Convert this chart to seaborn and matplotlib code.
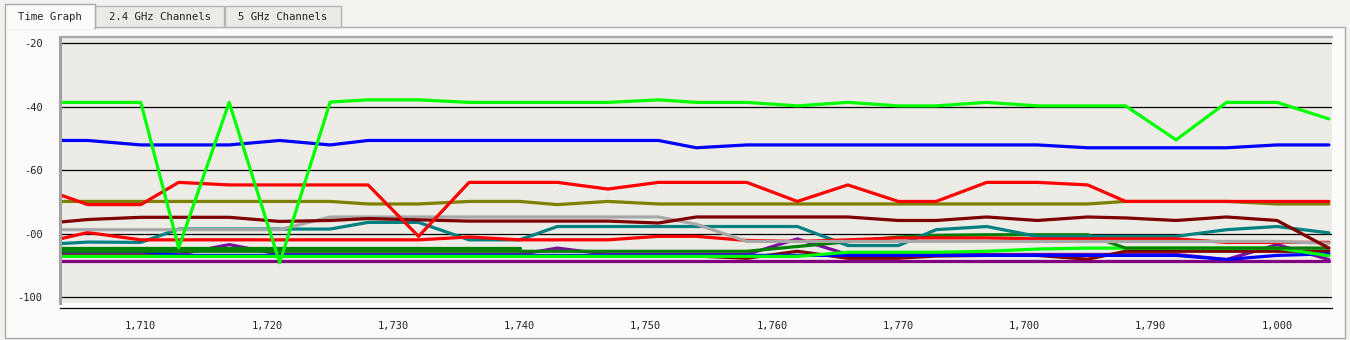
import matplotlib
matplotlib.use('Agg')  # headless
import matplotlib.pyplot as plt
from matplotlib.patches import Rectangle
from matplotlib.ticker import FixedLocator, MultipleLocator
import numpy as np
import pandas as pd
import seaborn as sns

# sample times (x)
time = [1703.6, 1705.8, 1710, 1713, 1717, 1721, 1725, 1728, 1732, 1736,
        1740, 1743, 1747, 1751, 1754, 1758, 1762, 1766, 1770, 1773,
        1777, 1781, 1785, 1788, 1792, 1796, 1800, 1804.1]

purple_low = [-88.5] * 28
purple_mid = [-86.5] * 4 + [-83.4] + [-86.5] * 6 + [-84.5] + [-86.5] * 4 + [-81.6] \
    + [-86.5] * 8 + [-88.1, -83.4, -88.1]
maroon_low = [-87.0] * 15 + [-87.7, -85.5, -87.7, -87.7, -87.0, -86.8, -86.8, -88.0] + [-85.5] * 5
blue_low = [-85.5] * 3 + [-86.8] * 22 + [-88.1, -86.8, -86.3]
lime_low = [-87.1] * 17 + [-85.8, -85.8, -85.8, -85.5, -84.8] + [-84.5] * 5 + [-86.9]
green_b = [-85.5] * 16 + [-84.0, -82.5, -81.0, -80.5, -80.3, -80.3, -80.3] + [-84.5] * 5
green_a = [-84.5] * 11 + [np.nan] * 17
teal = [-83.1, -82.6, -82.7, -78.5, -78.5, -78.5, -78.5, -76.4, -76.4, -81.9,
        -81.9, -77.7, -77.7, -77.7, -77.7, -77.7, -77.7, -83.7, -83.7, -78.7,
        -77.7, -80.8, -80.8, -80.8, -80.8, -78.7, -77.7, -79.7]
red_low = [-81.6, -79.6, -81.9, -81.9, -81.9, -81.9, -81.9, -81.9, -81.9, -81.0,
           -81.9, -81.9, -81.9, -80.8, -80.8, -82.1, -82.4, -81.9, -81.3, -81.3,
           -81.3, -81.6, -81.6, -81.6, -81.6, -82.7, -82.7, -82.7]
grey = [-78.7] * 6 + [-74.7] * 8 + [-77.0] + [-82.4] * 12 + [-83.0]
maroon = [-76.3, -75.5, -74.8, -74.8, -74.8, -76.1, -75.8, -75.2, -75.6, -76.0,
          -76.0, -76.0, -76.0, -76.6, -74.7, -74.7, -74.7, -74.7, -75.8, -75.8,
          -74.7, -75.8, -74.7, -75.0, -75.8, -74.7, -75.8, -84.5]
olive = [-69.8] * 7 + [-70.6, -70.6, -69.8, -69.8, -70.8, -69.8, -70.6] + [-70.6] * 9 \
    + [-69.8, -69.8, -69.8, -70.6, -70.6]
red_top = [-67.7, -70.8, -70.8, -63.8, -64.6, -64.6, -64.6, -64.6, -80.8, -63.8,
           -63.8, -63.8, -65.9, -63.8, -63.8, -63.8, -69.8, -64.6, -69.8, -69.8,
           -63.8, -63.8, -64.6, -69.8, -69.8, -69.8, -69.8, -69.8]
blue_top = [-50.6, -50.6, -52.0, -52.0, -52.0, -50.6, -52.0, -50.6, -50.6, -50.6,
            -50.6, -50.6, -50.6, -50.6, -52.9] + [-52.0] * 7 + [-52.9] * 4 + [-52.0, -52.0]
lime_top = [-38.6, -38.6, -38.6, -84.4, -38.6, -89.1, -38.5, -37.8, -37.8, -38.6,
            -38.6, -38.6, -38.6, -37.8, -38.6, -38.6, -39.7, -38.6, -39.7, -39.7,
            -38.6, -39.7, -39.7, -39.7, -50.4, -38.6, -38.6, -43.8]

y_ticks = [-100, -80, -60, -40, -20]
y_labels = ["-100", "-00", "-60", "-40", "-20"]
x_ticks = [1710, 1720, 1730, 1740, 1750, 1760, 1770, 1780, 1790, 1800]
x_labels = ["1,710", "1,720", "1,730", "1,740", "1,750", "1,760", "1,770",
            "1,700", "1,790", "1,000"]
tabs = ["Time Graph", "2.4 GHz Channels", "5 GHz Channels"]

# drawing order: first listed ends up at the bottom
series = {
    "purple_low": (purple_low, "#800080"),
    "purple_mid": (purple_mid, "#7d0a9e"),
    "maroon_low": (maroon_low, "#800000"),
    "blue_low": (blue_low, "#0000ff"),
    "lime_low": (lime_low, "#00ff00"),
    "green_b": (green_b, "#008000"),
    "green_a": (green_a, "#008000"),
    "teal": (teal, "#008080"),
    "red_low": (red_low, "#ff0000"),
    "grey": (grey, "#a8a8a8"),
    "maroon": (maroon, "#800000"),
    "olive": (olive, "#808000"),
    "red_top": (red_top, "#ff0000"),
    "blue_top": (blue_top, "#0000ff"),
    "lime_top": (lime_top, "#00ff00"),
}

W, H = 1350, 340


def build_frame():
    rows = []
    for name, (vals, _) in series.items():
        for t, v in zip(time, vals):
            rows.append({"time": t, "dbm": v, "ap": name})
    return pd.DataFrame(rows)


def px_rect(fig, x0, y0, x1, y1, **kw):
    r = Rectangle((x0 / W, 1 - y1 / H), (x1 - x0) / W, (y1 - y0) / H,
                  transform=fig.transFigure, **kw)
    fig.add_artist(r)
    return r


def draw_chrome(fig):
    # tab panel
    px_rect(fig, 5, 27, 1345, 338, facecolor="#fcfbf9", edgecolor="#aaaaaa", lw=1, zorder=0)
    px_rect(fig, 95, 6, 224, 27, facecolor="#eceae6", edgecolor="#b4b4b4", lw=1, zorder=0)
    px_rect(fig, 225, 6, 341, 27, facecolor="#eceae6", edgecolor="#b4b4b4", lw=1, zorder=0)
    px_rect(fig, 5, 4, 95, 28, facecolor="#fcfbf9", edgecolor="#aaaaaa", lw=1, zorder=0)
    px_rect(fig, 6, 26, 94, 29, facecolor="#fcfbf9", edgecolor="none", zorder=0)
    centers = [49.5, 160, 283]
    for label, cx in zip(tabs, centers):
        fig.text(cx / W, 1 - 17 / H, label, ha="center", va="center",
                 fontsize=7.7, family="DejaVu Sans Mono", color="#222222")


def plot_time_graph(df):
    fig = plt.figure(figsize=(W / 100, H / 100), dpi=100)
    fig.patch.set_facecolor("#f4f2ef")
    draw_chrome(fig)
    ax = fig.add_axes([60 / W, 1 - 302.7 / H, (1332 - 60) / W, (302.7 - 37.3) / H])
    ax.set_facecolor("#ecebe6")

    palette = {k: c for k, (_, c) in series.items()}
    sns.lineplot(data=df, x="time", y="dbm", hue="ap", hue_order=list(series.keys()),
                 palette=palette, estimator=None, sort=False, linewidth=2.3,
                 legend=False, ax=ax)

    ax.set_xlim(1703.6, 1804.35)
    ax.set_ylim(-101.7, -18.1)
    ax.set_xlabel("")
    ax.set_ylabel("")

    ax.yaxis.set_major_locator(FixedLocator(y_ticks))
    ax.set_yticklabels(y_labels)
    ax.yaxis.set_minor_locator(MultipleLocator(5))
    ax.xaxis.set_major_locator(FixedLocator(x_ticks))
    ax.set_xticklabels(x_labels)
    ax.xaxis.set_minor_locator(MultipleLocator(2))

    ax.grid(False)
    ax.yaxis.grid(True, which="major", color="black", lw=0.9)
    ax.set_axisbelow(True)

    ax.spines["right"].set_visible(False)
    ax.spines["left"].set_color("#a0a0a0")
    ax.spines["left"].set_linewidth(2.2)
    ax.spines["top"].set_color("#a8a8a8")
    ax.spines["top"].set_linewidth(1.6)
    ax.spines["bottom"].set_position(("outward", 3.5))
    ax.spines["bottom"].set_color("black")
    ax.spines["bottom"].set_linewidth(0.9)

    ax.tick_params(axis="y", which="major", length=7, width=0.8, pad=5.5, colors="black",
                   labelsize=7.5)
    ax.tick_params(axis="y", which="minor", length=3.5, width=0.8, colors="black")
    ax.tick_params(axis="x", which="major", length=5, width=0.8, pad=4.5, colors="black",
                   labelsize=7.5)
    ax.tick_params(axis="x", which="minor", length=2.3, width=0.8, colors="black")
    for lab in ax.get_xticklabels() + ax.get_yticklabels():
        lab.set_family("DejaVu Sans Mono")
        lab.set_color("#222222")

    fig.savefig("out.png", dpi=100, facecolor=fig.get_facecolor())


if __name__ == '__main__':
    sns.set_style("white")
    plt.rcParams['font.family'] = ['DejaVu Sans Mono', 'DejaVu Sans']
    df = build_frame()
    plot_time_graph(df)
